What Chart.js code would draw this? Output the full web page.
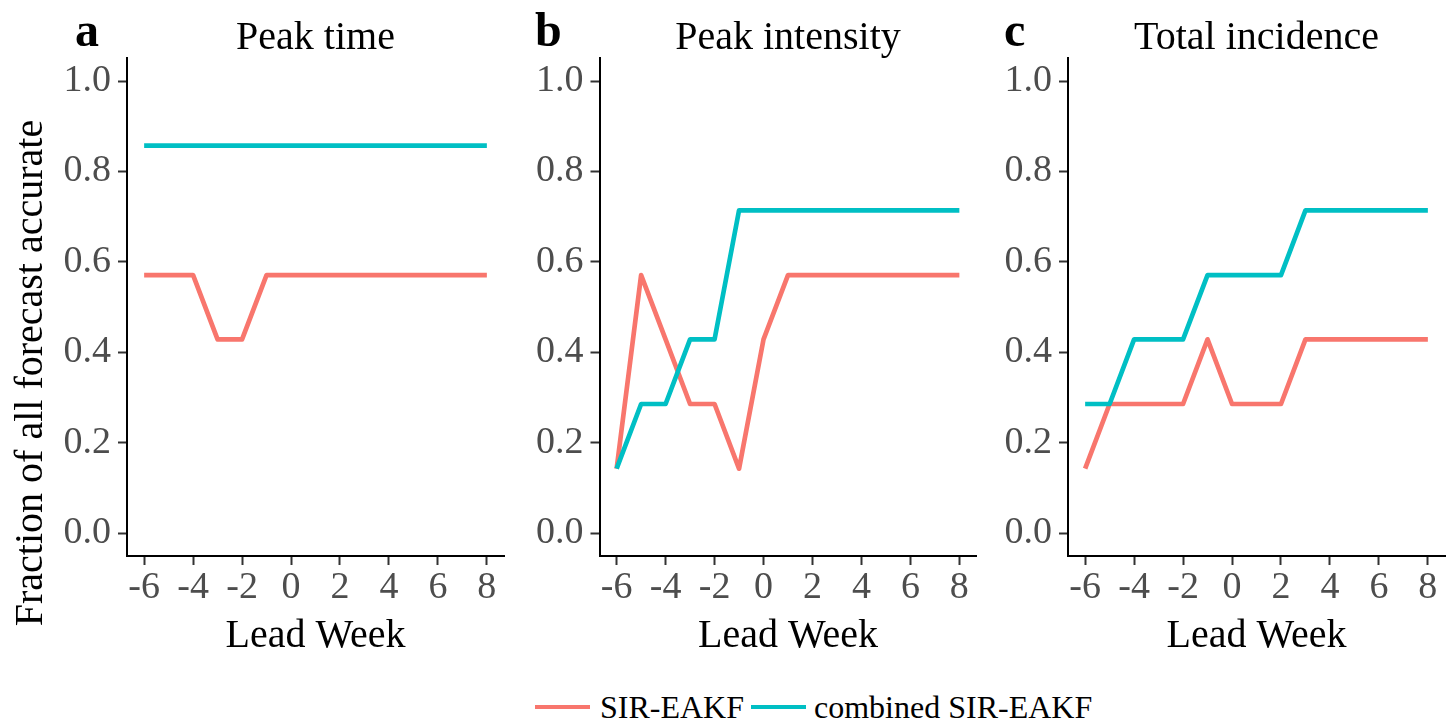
<!DOCTYPE html>
<html>
<head>
<meta charset="utf-8">
<script src="https://cdn.jsdelivr.net/npm/chart.js@4.4.1/dist/chart.umd.min.js"></script>
<style>
  body { margin: 0; background: #fff; width: 1452px; height: 721px; position: relative; overflow: hidden;
         font-family: 'Liberation Serif', 'Times New Roman', serif; color: #000; }
  canvas { position: absolute; top: 0; }
  .letter { position: absolute; top: 6px; font-size: 48px; line-height: 48px; font-weight: bold; }
  .ptitle { position: absolute; top: 16px; width: 400px; text-align: center; font-size: 40px; line-height: 40px; }
  .ytitle { position: absolute; left: -271.5px; top: 352.5px; width: 600px; height: 40px; line-height: 40px;
            font-size: 40px; text-align: center; transform: rotate(-90deg); white-space: nowrap; }
  .legend { position: absolute; left: 535px; top: 690px; height: 34px; display: flex; align-items: center;
            font-size: 32px; line-height: 34px; white-space: nowrap; }
  .legend .key { display: inline-block; width: 55px; height: 4.5px; }
</style>
</head>
<body>
<canvas id="chartA" width="520" height="666" style="left:0px"></canvas>
<canvas id="chartB" width="470" height="666" style="left:520px"></canvas>
<canvas id="chartC" width="462" height="666" style="left:990px"></canvas>

<div class="letter" style="left:75px">a</div>
<div class="letter" style="left:535px">b</div>
<div class="letter" style="left:1004px">c</div>
<div class="ptitle" style="left:115.5px">Peak time</div>
<div class="ptitle" style="left:588px">Peak intensity</div>
<div class="ptitle" style="left:1056.5px">Total incidence</div>
<div class="ytitle">Fraction of all forecast accurate</div>

<div class="legend">
  <span class="key" style="background:#F8766D"></span>
  <span style="margin-left:10px">SIR-EAKF</span>
  <span class="key" style="background:#00BFC4; margin-left:7px"></span>
  <span style="margin-left:8px">combined SIR-EAKF</span>
</div>

<script>
const leadWeeks = [-6, -5, -4, -3, -2, -1, 0, 1, 2, 3, 4, 5, 6, 7, 8];
const weekTicks = [-6, -4, -2, 0, 2, 4, 6, 8];
const fractionTicks = [0, 0.2, 0.4, 0.6, 0.8, 1.0];
const seriesNames = ['SIR-EAKF', 'combined SIR-EAKF'];

const peakTimeSir      = [0.571, 0.571, 0.571, 0.429, 0.429, 0.571, 0.571, 0.571, 0.571, 0.571, 0.571, 0.571, 0.571, 0.571, 0.571];
const peakTimeCombined = [0.857, 0.857, 0.857, 0.857, 0.857, 0.857, 0.857, 0.857, 0.857, 0.857, 0.857, 0.857, 0.857, 0.857, 0.857];

const peakIntensitySir      = [0.143, 0.571, 0.429, 0.286, 0.286, 0.143, 0.429, 0.571, 0.571, 0.571, 0.571, 0.571, 0.571, 0.571, 0.571];
const peakIntensityCombined = [0.143, 0.286, 0.286, 0.429, 0.429, 0.714, 0.714, 0.714, 0.714, 0.714, 0.714, 0.714, 0.714, 0.714, 0.714];

const totalIncidenceSir      = [0.143, 0.286, 0.286, 0.286, 0.286, 0.429, 0.286, 0.286, 0.286, 0.429, 0.429, 0.429, 0.429, 0.429, 0.429];
const totalIncidenceCombined = [0.286, 0.286, 0.429, 0.429, 0.429, 0.571, 0.571, 0.571, 0.571, 0.714, 0.714, 0.714, 0.714, 0.714, 0.714];

const SERIF = "'Liberation Serif', 'Times New Roman', serif";
const RED = '#F8766D';
const CYAN = '#00BFC4';

function points(values) {
  return leadWeeks.map((w, i) => ({ x: w, y: values[i] }));
}

function makePanel(id, sir, combined, yWidth, padRight) {
  new Chart(document.getElementById(id), {
    type: 'line',
    data: {
      datasets: [
        { label: seriesNames[0], data: points(sir), borderColor: RED, order: 1 },
        { label: seriesNames[1], data: points(combined), borderColor: CYAN, order: 0 }
      ]
    },
    options: {
      responsive: false,
      animation: false,
      layout: { padding: { top: 58.4, right: padRight, bottom: 0, left: 0 } },
      elements: {
        line: { borderWidth: 4.7, tension: 0, fill: false, borderCapStyle: 'butt', borderJoinStyle: 'round' },
        point: { radius: 0, hoverRadius: 0 }
      },
      plugins: { legend: { display: false }, tooltip: { enabled: false } },
      scales: {
        x: {
          type: 'linear', min: -6.7, max: 8.7,
          afterBuildTicks: s => { s.ticks = weekTicks.map(v => ({ value: v })); },
          afterFit: s => { s.height = 110; },
          ticks: { color: '#4D4D4D', font: { family: SERIF, size: 38, lineHeight: 1 }, padding: 4,
                   maxRotation: 0, autoSkip: false, callback: v => String(v) },
          grid: { drawOnChartArea: false, drawTicks: true, tickLength: 9, tickColor: '#333333', tickWidth: 2 },
          border: { display: true, color: '#000000', width: 2 },
          title: { display: true, text: 'Lead Week', color: '#000000',
                   font: { family: SERIF, size: 40, lineHeight: 1 }, padding: { top: 0, bottom: 9.5 } }
        },
        y: {
          type: 'linear', min: -0.05, max: 1.05,
          afterBuildTicks: s => { s.ticks = fractionTicks.map(v => ({ value: v })); },
          afterFit: s => { s.width = yWidth; },
          ticks: { color: '#4D4D4D', font: { family: SERIF, size: 38, lineHeight: 1 }, padding: 7,
                   callback: v => v.toFixed(1) },
          grid: { drawOnChartArea: false, drawTicks: true, tickLength: 9, tickColor: '#333333', tickWidth: 2 },
          border: { display: true, color: '#000000', width: 2 }
        }
      }
    }
  });
}

makePanel('chartA', peakTimeSir, peakTimeCombined, 127, 16);
makePanel('chartB', peakIntensitySir, peakIntensityCombined, 79.5, 13.5);
makePanel('chartC', totalIncidenceSir, totalIncidenceCombined, 78, 7);
</script>
</body>
</html>
